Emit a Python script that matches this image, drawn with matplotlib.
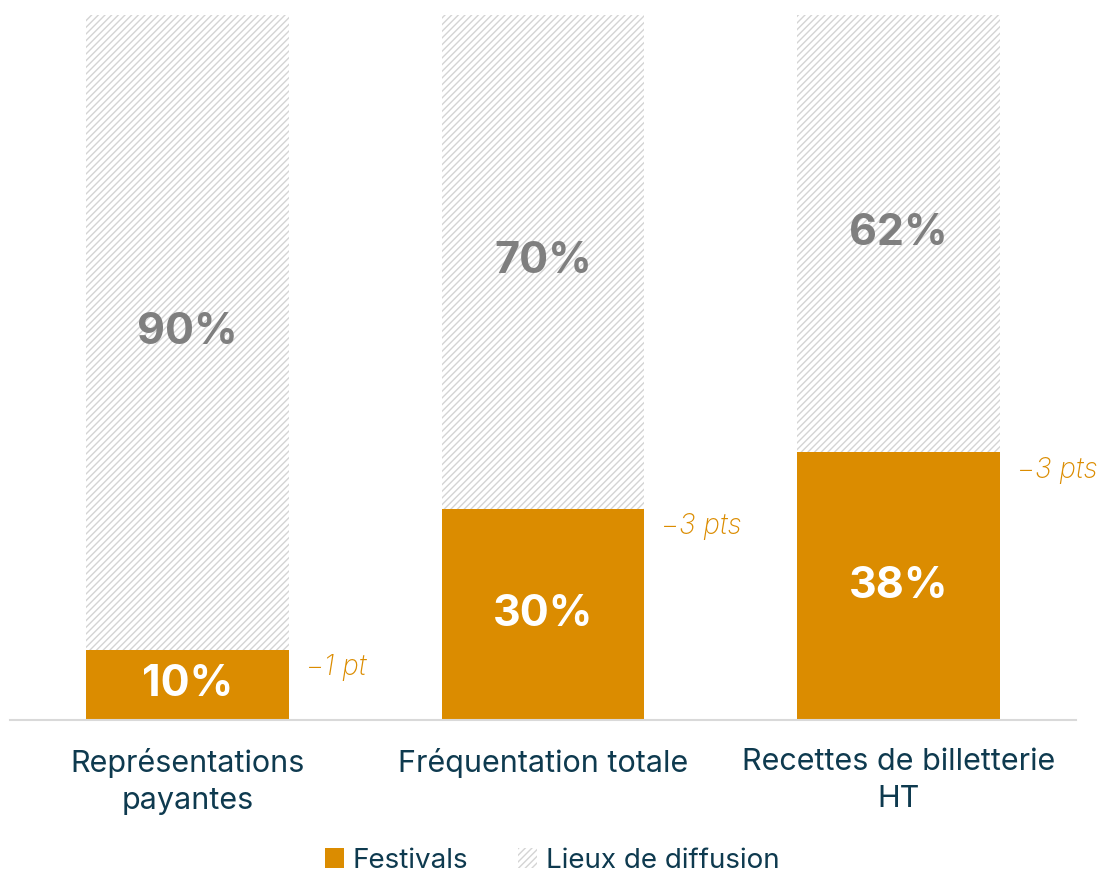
import matplotlib.pyplot as plt
from matplotlib.patches import Patch

categories = ["Représentations\npayantes", "Fréquentation totale", "Recettes de billetterie\nHT"]
festivals = [10, 30, 38]
lieux = [90, 70, 62]
evolutions = ["−1 pt", "−3 pts", "−3 pts"]

orange = "#db8c00"
hatch_gray = "#d4d4d4"
text_col = "#0e3a4f"
label_gray = "#7f7f7f"

plt.rcParams['font.family'] = ['Inter', 'DejaVu Sans']
plt.rcParams['hatch.linewidth'] = 1.0

fig = plt.figure(figsize=(11.04, 8.74), dpi=100)
ax = fig.add_axes([0.009, 0.176, 0.966, 0.807])

x = range(len(categories))
w = 0.57
ax.bar(x, festivals, width=w, color=orange, linewidth=0)
ax.bar(x, lieux, width=w, bottom=festivals, color="white", edgecolor=hatch_gray,
       hatch="/////", linewidth=0)

for i in x:
    ax.text(i, festivals[i] / 2, f"{festivals[i]}%", ha="center", va="center",
            color="white", fontsize=31, fontweight="bold")
    ax.text(i, festivals[i] + lieux[i] / 2, f"{lieux[i]}%", ha="center", va="center",
            color=label_gray, fontsize=31, fontweight="bold")
    ax.annotate(evolutions[i], xy=(i + w / 2, festivals[i]), xytext=(12, -13),
                textcoords="offset points", ha="left", va="center",
                color=orange, fontsize=20, style="italic", fontweight="light")

ax.set_xlim(-0.5, 2.5)
ax.set_ylim(0, 100)
ax.set_xticks(list(x))
ax.set_xticklabels(categories, fontsize=22, color=text_col, linespacing=1.4)
ax.tick_params(axis="x", length=0, pad=20)
ax.set_yticks([])
for s in ["top", "right", "left"]:
    ax.spines[s].set_visible(False)
ax.spines["bottom"].set_color("#d9d9d9")
ax.spines["bottom"].set_linewidth(1.5)

handles = [Patch(facecolor=orange, linewidth=0),
           Patch(facecolor="white", edgecolor=hatch_gray, hatch="/////", linewidth=0)]
fig.legend(handles, ["Festivals", "Lieux de diffusion"], loc="center",
           bbox_to_anchor=(0.5, 0.015), ncol=2, frameon=False, fontsize=20,
           labelcolor=text_col, handlelength=0.7, handleheight=0.7,
           handletextpad=0.3, columnspacing=1.8)

fig.savefig("out.png", dpi=100)
